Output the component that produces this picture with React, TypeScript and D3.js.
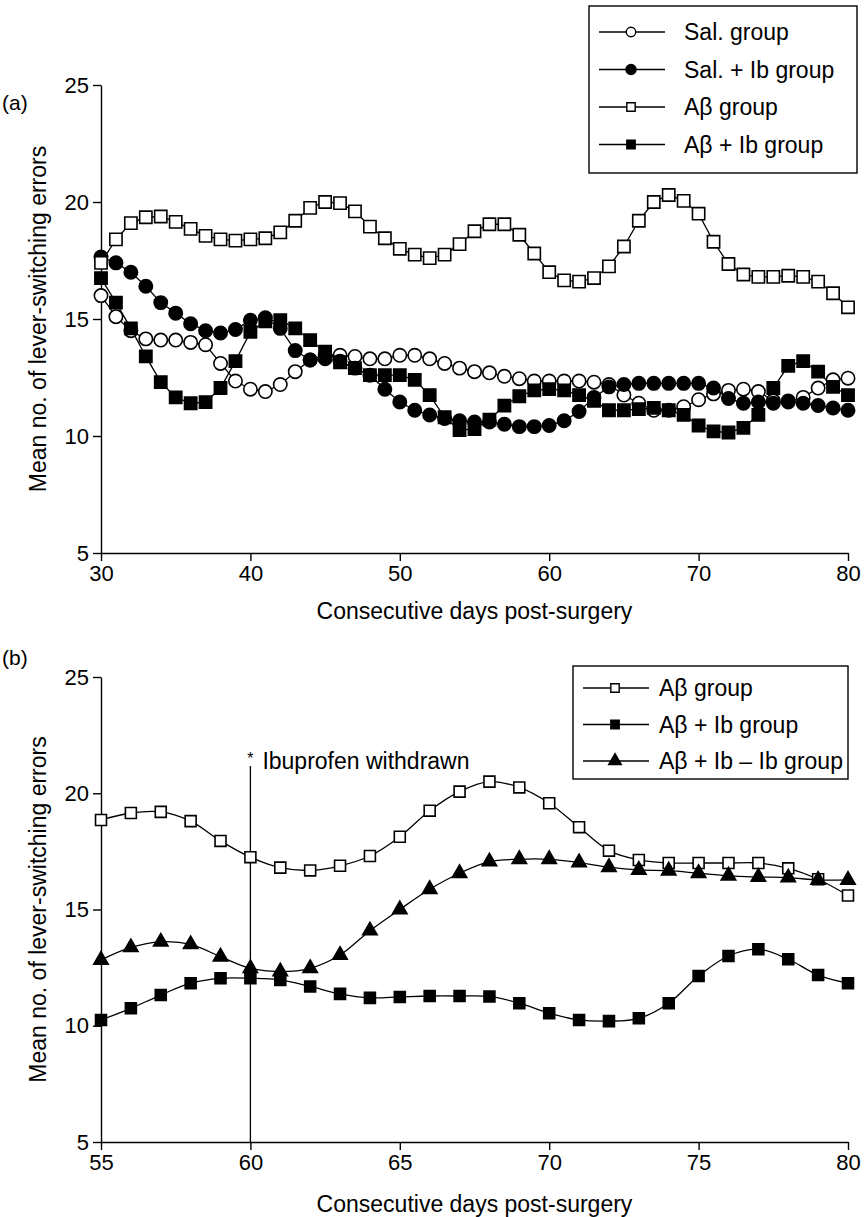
import React, { useEffect, useRef } from "react";
import * as d3 from "d3";

// days on the x axis
const daysA = d3.range(30, 81);
const daysB = d3.range(55, 81);

// panel (a) series, days 30..80
const salGroup = [
  16.0, 15.1, 14.5, 14.15, 14.1, 14.1, 14.0, 13.9, 13.1, 12.35, 12.0, 11.9, 12.2,
  12.75, 13.25, 13.45, 13.45, 13.4, 13.3, 13.3, 13.45, 13.45, 13.3, 13.1, 12.9,
  12.75, 12.7, 12.55, 12.45, 12.35, 12.35, 12.35, 12.35, 12.3, 12.2, 11.75, 11.4,
  11.1, 11.1, 11.25, 11.55, 11.8, 11.95, 12.0, 11.9, 11.5, 11.45, 11.65, 12.05,
  12.4, 12.47,
];
const salIbGroup = [
  17.65, 17.4, 17.0, 16.4, 15.7, 15.25, 14.8, 14.5, 14.4, 14.55, 14.95, 15.05,
  14.6, 13.65, 13.25, 13.3, 13.2, 12.9, 12.6, 12.0, 11.45, 11.1, 10.9, 10.75,
  10.65, 10.6, 10.6, 10.5, 10.4, 10.4, 10.45, 10.65, 11.05, 11.65, 12.1, 12.2,
  12.25, 12.25, 12.25, 12.25, 12.25, 12.05, 11.6, 11.4, 11.45, 11.4, 11.5, 11.4,
  11.3, 11.2, 11.1,
];
const abGroupA = [
  17.4, 18.4, 19.1, 19.35, 19.38, 19.15, 18.85, 18.55, 18.4, 18.35, 18.4, 18.45,
  18.7, 19.2, 19.75, 20.0, 19.95, 19.6, 18.95, 18.45, 18.0, 17.75, 17.6, 17.75,
  18.2, 18.75, 19.05, 19.05, 18.6, 17.8, 17.0, 16.65, 16.6, 16.75, 17.25, 18.1,
  19.2, 20.0, 20.3, 20.05, 19.5, 18.3, 17.35, 16.9, 16.8, 16.8, 16.85, 16.8, 16.6,
  16.1, 15.5,
];
const abIbGroupA = [
  16.75, 15.7, 14.6, 13.4, 12.3, 11.65, 11.4, 11.45, 12.05, 13.2, 14.45, 14.9,
  14.95, 14.6, 14.1, 13.6, 13.15, 12.9, 12.6, 12.6, 12.6, 12.4, 11.75, 10.8,
  10.25, 10.3, 10.7, 11.3, 11.7, 11.95, 12.0, 11.95, 11.75, 11.5, 11.1, 11.1,
  11.15, 11.2, 11.1, 10.9, 10.45, 10.2, 10.15, 10.35, 10.9, 12.05, 13.0, 13.2,
  12.75, 12.1, 11.75,
];

// panel (b) series, days 55..80
const abGroupB = [
  18.85, 19.15, 19.2, 18.8, 17.95, 17.25, 16.8, 16.68, 16.88, 17.3, 18.13, 19.25,
  20.07, 20.5, 20.25, 19.57, 18.54, 17.53, 17.13, 17.0, 17.0, 17.0, 17.0, 16.77,
  16.3, 15.6,
];
const abIbGroupB = [
  10.25, 10.75, 11.32, 11.83, 12.04, 12.04, 11.97, 11.69, 11.37, 11.2, 11.24,
  11.28, 11.28, 11.26, 10.97, 10.54, 10.25, 10.2, 10.32, 10.97, 12.14, 13.0,
  13.29, 12.86, 12.18, 11.83,
];
const abIbMinusIbGroup = [
  12.83, 13.37, 13.61, 13.5, 12.97, 12.47, 12.33, 12.47, 13.04, 14.09, 15.0,
  15.87, 16.56, 17.06, 17.16, 17.16, 17.02, 16.82, 16.7, 16.67, 16.56, 16.45,
  16.4, 16.37, 16.27, 16.27,
];

const yTicks = [5, 10, 15, 20, 25];
const xTicksA = [30, 40, 50, 60, 70, 80];
const xTicksB = [55, 60, 65, 70, 75, 80];

const FONT = "'Liberation Sans', Arial, Helvetica, sans-serif";

const shapes = {
  circle: d3.symbolCircle,
  square: d3.symbolSquare,
  triangle: d3.symbolTriangle,
};

function drawPanel(svg, cfg) {
  const x = d3.scaleLinear().domain(cfg.xDomain).range([cfg.left, cfg.right]);
  const y = d3.scaleLinear().domain([5, 25]).range([cfg.bottom, cfg.top]);
  const g = svg.append("g");

  const yAxis = d3.axisLeft(y).tickValues(yTicks).tickSize(8).tickSizeOuter(0).tickPadding(4);
  const yAxisG = g.append("g").attr("transform", `translate(${cfg.left},0)`).call(yAxis);
  const xAxis = d3.axisBottom(x).tickValues(cfg.xTicks).tickSize(8).tickSizeOuter(0).tickPadding(4);
  const xAxisG = g.append("g").attr("transform", `translate(0,${cfg.bottom})`).call(xAxis);
  [yAxisG, xAxisG].forEach((a) => {
    a.attr("font-family", FONT).attr("font-size", 22);
    a.selectAll("path,line").attr("stroke", "#000").attr("stroke-width", 1.4);
    a.selectAll("text").attr("fill", "#000");
  });

  g.append("text")
    .attr("transform", `translate(38,${(cfg.top + cfg.bottom) / 2}) rotate(-90)`)
    .attr("text-anchor", "middle")
    .attr("dominant-baseline", "central")
    .attr("font-family", FONT)
    .attr("font-size", 23)
    .text("Mean no. of lever-switching errors");

  g.append("text")
    .attr("x", (cfg.left + cfg.right) / 2)
    .attr("y", cfg.bottom + cfg.titleDy)
    .attr("text-anchor", "middle")
    .attr("font-family", FONT)
    .attr("font-size", 23)
    .text("Consecutive days post-surgery");

  g.append("text")
    .attr("x", 2)
    .attr("y", cfg.labelY)
    .attr("font-family", FONT)
    .attr("font-size", 21)
    .text(cfg.label);

  if (cfg.annotate) cfg.annotate(g, x, y);

  const line = d3
    .line()
    .x((d, i) => x(cfg.days[i]))
    .y((d) => y(d))
    .curve(cfg.curve);

  cfg.series.forEach((s) => {
    g.append("path")
      .attr("d", line(s.values))
      .attr("fill", "none")
      .attr("stroke", "#000")
      .attr("stroke-width", 1.3);
  });

  cfg.series.forEach((s) => {
    g.append("g")
      .selectAll("path")
      .data(s.values)
      .join("path")
      .attr("transform", (d, i) => `translate(${x(cfg.days[i])},${y(d)})`)
      .attr("d", d3.symbol(shapes[s.shape], s.size)())
      .attr("fill", s.filled ? "#000" : "#fff")
      .attr("stroke", "#000")
      .attr("stroke-width", 1.6);
  });

  // legend
  const lg = cfg.legend;
  const leg = g.append("g");
  leg.append("rect")
    .attr("x", lg.x)
    .attr("y", lg.y)
    .attr("width", lg.w)
    .attr("height", lg.h)
    .attr("fill", "#fff")
    .attr("stroke", "#000")
    .attr("stroke-width", 1.4);
  cfg.series.forEach((s, i) => {
    const cy = lg.y + lg.first + i * lg.step;
    leg.append("line")
      .attr("x1", lg.x + 10)
      .attr("x2", lg.x + 76)
      .attr("y1", cy)
      .attr("y2", cy)
      .attr("stroke", "#000")
      .attr("stroke-width", 1.3);
    leg.append("path")
      .attr("transform", `translate(${lg.x + 42},${cy})`)
      .attr("d", d3.symbol(shapes[s.shape], s.legendSize)())
      .attr("fill", s.filled ? "#000" : "#fff")
      .attr("stroke", "#000")
      .attr("stroke-width", 1.4);
    leg.append("text")
      .attr("x", lg.x + lg.textDx)
      .attr("y", cy)
      .attr("dominant-baseline", "central")
      .attr("font-family", FONT)
      .attr("font-size", 23)
      .text(s.name);
  });
}

export default function App() {
  const ref = useRef(null);

  useEffect(() => {
    const svg = d3.select(ref.current);
    svg.selectAll("*").remove();

    drawPanel(svg, {
      label: "(a)",
      labelY: 110,
      titleDy: 66,
      top: 85,
      bottom: 553,
      left: 101,
      right: 848,
      xDomain: [30, 80],
      xTicks: xTicksA,
      days: daysA,
      curve: d3.curveLinear,
      series: [
        { name: "Sal. group", values: salGroup, shape: "circle", filled: false, size: 140, legendSize: 70 },
        { name: "Sal. + Ib group", values: salIbGroup, shape: "circle", filled: true, size: 140, legendSize: 80 },
        { name: "A\u03b2 group", values: abGroupA, shape: "square", filled: false, size: 150, legendSize: 70 },
        { name: "A\u03b2 + Ib group", values: abIbGroupA, shape: "square", filled: true, size: 150, legendSize: 70 },
      ],
      legend: { x: 589, y: 6, w: 268, h: 167, first: 26, step: 37.5, textDx: 95 },
    });

    drawPanel(svg, {
      label: "(b)",
      labelY: 665,
      titleDy: 70,
      top: 677,
      bottom: 1142,
      left: 101,
      right: 848,
      xDomain: [55, 80],
      xTicks: xTicksB,
      days: daysB,
      curve: d3.curveCatmullRom,
      series: [
        { name: "A\u03b2 group", values: abGroupB, shape: "square", filled: false, size: 120, legendSize: 70 },
        { name: "A\u03b2 + Ib group", values: abIbGroupB, shape: "square", filled: true, size: 120, legendSize: 70 },
        { name: "A\u03b2 + Ib \u2013 Ib group", values: abIbMinusIbGroup, shape: "triangle", filled: true, size: 90, legendSize: 70 },
      ],
      legend: { x: 573, y: 666, w: 275, h: 113, first: 22, step: 36.5, textDx: 86 },
      annotate: (g, x, y) => {
        g.append("line")
          .attr("x1", x(60))
          .attr("x2", x(60))
          .attr("y1", 766)
          .attr("y2", y(5))
          .attr("stroke", "#000")
          .attr("stroke-width", 1.3);
        g.append("text")
          .attr("x", x(60))
          .attr("y", 764)
          .attr("text-anchor", "middle")
          .attr("font-family", FONT)
          .attr("font-size", 16)
          .text("*");
        g.append("text")
          .attr("x", x(60) + 12)
          .attr("y", 769)
          .attr("font-family", FONT)
          .attr("font-size", 23)
          .text("Ibuprofen withdrawn");
      },
    });
  }, []);

  return (
    <svg
      ref={ref}
      width={866}
      height={1217}
      style={{ position: "absolute", left: 0, top: 0, background: "#fff" }}
    />
  );
}
